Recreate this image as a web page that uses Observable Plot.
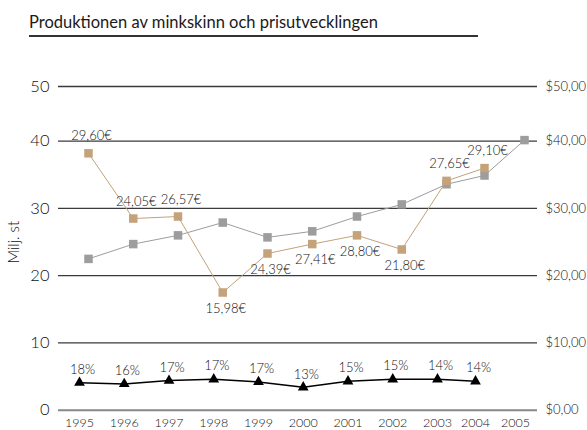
<!DOCTYPE html>
<html><head><meta charset="utf-8">
<script src="https://cdn.jsdelivr.net/npm/d3@7"></script>
<script src="https://cdn.jsdelivr.net/npm/@observablehq/plot@0.6"></script>
<style>
body{margin:0;background:#fff;font-family:Lato,sans-serif;}
#title{margin-left:29px;width:449px;height:23px;padding-top:12px;font-size:16.5px;line-height:20px;color:#1a1a1a;border-bottom:2px solid #333;white-space:nowrap;font-weight:400;}
svg text{font-weight:300;}
</style></head><body>
<div id="title">Produktionen av minkskinn och prisutvecklingen</div>
<div id="chart"></div>
<script>
// Data
const years = [1995, 1996, 1997, 1998, 1999, 2000, 2001, 2002, 2003, 2004, 2005];
const production = [22.5, 24.7, 26.0, 27.9, 25.7, 26.6, 28.8, 30.6, 33.6, 34.9, 40.2]; // Milj. st (grey)
const priceYears = [1995, 1996, 1997, 1998, 1999, 2000, 2001, 2002, 2003, 2004];
const priceUSD = [38.2, 28.5, 28.8, 17.5, 23.3, 24.7, 26.0, 23.9, 34.1, 36.0]; // right axis (gold)
const priceEUR = [29.60, 24.05, 26.57, 15.98, 24.39, 27.41, 28.80, 21.80, 27.65, 29.10]; // labels
const finnishProd = [4.1, 3.9, 4.4, 4.6, 4.2, 3.4, 4.3, 4.6, 4.6, 4.3]; // black triangles
const finnishShare = [18, 16, 17, 17, 17, 13, 15, 15, 14, 14]; // % labels
const yTicks = [0, 10, 20, 30, 40, 50];
const eurLabelBelow = [1998, 1999, 2000, 2001, 2002];

const prod = years.map((year, i) => ({year, value: production[i]}));
const price = priceYears.map((year, i) => ({year, usd: priceUSD[i], eur: priceEUR[i]}));
const share = priceYears.map((year, i) => ({year, value: finnishProd[i], pct: finnishShare[i]}));
const fmtEur = d => d.eur.toFixed(2).replace(".", ",") + "€";
const ink = "#111";

const chart = Plot.plot({
  width: 587,
  height: 393,
  marginLeft: 58,
  marginRight: 50,
  marginTop: 49,
  marginBottom: 20,
  style: {fontFamily: "Lato, sans-serif", background: "#fff", color: ink, overflow: "visible"},
  x: {type: "linear", domain: [1995, 2003, 2004, 2005], range: [79, 437, 475, 515]},
  y: {type: "linear", domain: [0, 40, 50], range: [372.7, 103.7, 49]},
  marks: [
    Plot.ruleY(yTicks.filter(d => d > 0), {stroke: "#3a3a3a", strokeWidth: 1.3}),
    Plot.ruleY([0], {stroke: "#888", strokeWidth: 2}),
    Plot.axisY(yTicks, {anchor: "left", tickSize: 0, tickPadding: 9, fontSize: 16.5, tickFormat: d => String(d), label: null}),
    Plot.axisY(yTicks, {anchor: "right", tickSize: 0, tickPadding: 8, fontSize: 13, tickFormat: d => `$${d},00`, label: null}),
    Plot.axisX(years, {anchor: "bottom", tickSize: 0, tickPadding: 8, fontSize: 12.5, tickFormat: d => String(d), label: null}),
    Plot.text(["Milj. st"], {frameAnchor: "left", dx: -44, dy: 15, rotate: -90, fontSize: 15, fill: ink}),
    // grey production series
    Plot.line(prod, {x: "year", y: "value", dx: 9, stroke: "#9d9d9f", strokeWidth: 1}),
    Plot.dot(prod, {x: "year", y: "value", dx: 9, symbol: "square", r: 4.8, fill: "#9d9d9f", stroke: "none"}),
    // gold price series
    Plot.line(price, {x: "year", y: "usd", dx: 9, stroke: "#c4a27a", strokeWidth: 1}),
    Plot.dot(price, {x: "year", y: "usd", dx: 9, symbol: "square", r: 4.8, fill: "#c4a27a", stroke: "none"}),
    Plot.text(price.filter(d => !eurLabelBelow.includes(d.year)), {x: "year", y: "usd", text: fmtEur, dx: 12, dy: -17, fontSize: 13, fill: ink}),
    Plot.text(price.filter(d => eurLabelBelow.includes(d.year)), {x: "year", y: "usd", text: fmtEur, dx: 12, dy: 16, fontSize: 13, fill: ink}),
    // black share series
    Plot.line(share, {x: "year", y: "value", stroke: "#000", strokeWidth: 1.5}),
    Plot.dot(share, {x: "year", y: "value", symbol: "triangle", r: 4, fill: "#000", stroke: "none"}),
    Plot.text(share, {x: "year", y: "value", text: d => d.pct + "%", dx: 3, dy: -13, fontSize: 13, fill: ink})
  ]
});
document.getElementById("chart").appendChild(chart);
</script>
</body></html>
